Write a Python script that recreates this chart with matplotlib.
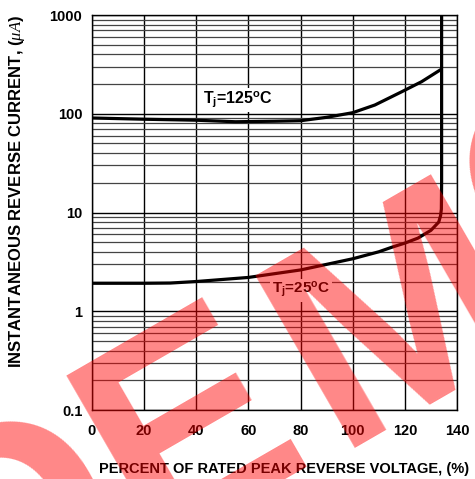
import numpy as np
import matplotlib
matplotlib.use("Agg")
import matplotlib.pyplot as plt
from matplotlib.ticker import FixedLocator, NullFormatter

plt.rcParams['font.family'] = ['Liberation Sans', 'DejaVu Sans']
plt.rcParams['mathtext.fontset'] = 'custom'
plt.rcParams['mathtext.rm'] = 'Liberation Sans:bold'
plt.rcParams['mathtext.bf'] = 'Liberation Sans:bold'
plt.rcParams['mathtext.it'] = 'Liberation Serif:italic'

# ---- data ----------------------------------------------------------
# Tj = 25 C curve (percent of rated voltage, current uA), ends in the vertical breakdown line
pct_25 = [0, 20, 30, 40, 60, 80, 100, 110, 115, 120, 125, 130, 133, 133.7, 134.0, 134.1, 134.1]
cur_25 = [1.92, 1.92, 1.93, 2.0, 2.2, 2.62, 3.4, 4.0, 4.45, 4.9, 5.5, 6.6, 8.0, 9.3, 10.8, 20, 1200]

# Tj = 125 C curve
pct_125 = [0, 20, 40, 55, 70, 80, 90, 100, 108.5, 118.8, 126.4, 133.5]
cur_125 = [90.6, 88, 86, 83, 84, 85, 92, 102.5, 122.6, 167, 211, 277]

x_ticks = [0, 20, 40, 60, 80, 100, 120, 140]
y_ticks = [0.1, 1, 10, 100, 1000]
y_labels = ['0.1', '1', '10', '100', '1000']

#___________figure_____________________________________________________
fig = plt.figure(figsize=(4.75, 4.79), dpi=100)
ax = fig.add_axes([92/475, 1-410/479, 365/475, 395/479])

ax.set_yscale('log')
ax.set_xlim(0, 140)
ax.set_ylim(0.1, 1000)

ax.xaxis.set_major_locator(FixedLocator(x_ticks))
ax.set_xticklabels([str(t) for t in x_ticks])
ax.yaxis.set_major_locator(FixedLocator(y_ticks))
ax.set_yticklabels(y_labels)
minors = [m * 10.0**e for e in range(-1, 3) for m in range(2, 10)]
ax.yaxis.set_minor_locator(FixedLocator(minors))
ax.yaxis.set_minor_formatter(NullFormatter())

ax.tick_params(which='both', length=0)
ax.tick_params(axis='x', pad=10, labelsize=10.5)
ax.tick_params(axis='y', pad=7, labelsize=10.5)
for lab in ax.get_xticklabels() + ax.get_yticklabels():
    lab.set_fontweight('bold')

ax.grid(True, which='major', axis='both', color='black', linewidth=1.0)
ax.grid(True, which='minor', axis='y', color='#444444', linewidth=0.9)
for sp in ax.spines.values():
    sp.set_linewidth(1.0)

ax.plot(pct_25, cur_25, color='black', linewidth=2.3, solid_capstyle='butt')
ax.plot(pct_125, cur_125, color='black', linewidth=2.3)

ax.text(56, 138, r'T$_\mathbf{j}$=125$^\mathbf{o}$C', fontsize=11.5, fontweight='bold',
        ha='center', va='center', bbox=dict(facecolor='white', edgecolor='none', pad=1.5))
ax.text(80.2, 1.62, r'T$_\mathbf{j}$=25$^\mathbf{o}$C', fontsize=11, fontweight='bold',
        ha='center', va='center', bbox=dict(facecolor='white', edgecolor='none', pad=1.5))

ax.set_xlabel('PERCENT OF RATED PEAK REVERSE VOLTAGE, (%)', fontsize=10.5, fontweight='bold')
ax.xaxis.set_label_coords((284-92)/365, -(469-410)/395)
ax.xaxis.label.set_va('center')
ax.set_ylabel(r'INSTANTANEOUS REVERSE CURRENT, ($\mu A$)', fontsize=12, fontweight='bold')
ax.yaxis.set_label_coords((17-92)/365, (410-191.5)/395)
ax.yaxis.label.set_va('center')

#___________watermark, one letter at a time___________________________
wm_letters = ['D', 'E', 'M', 'O']
wm_adv = [0.722, 0.667, 0.833, 0.778]      # advance widths in em
wm_shift = [(-12, -6), (-14, -2), (8, -6), (-12, -28)]  # pixel nudges
em = 290.0
ang = np.radians(30)
ux, uy = np.cos(ang), -np.sin(ang)
x0, y0 = -21.0, 655.0
pos = 0.0
for ch, adv, (dx, dy) in zip(wm_letters, wm_adv, wm_shift):
    px = x0 + ux * pos * em + dx
    py = y0 + uy * pos * em + dy
    fig.text(px / 475, 1 - py / 479, ch, fontsize=em * 0.72, fontweight='bold',
             color='red', alpha=0.47, rotation=30, rotation_mode='anchor',
             ha='left', va='baseline', zorder=10)
    pos += adv

fig.savefig('out.png', dpi=100)
